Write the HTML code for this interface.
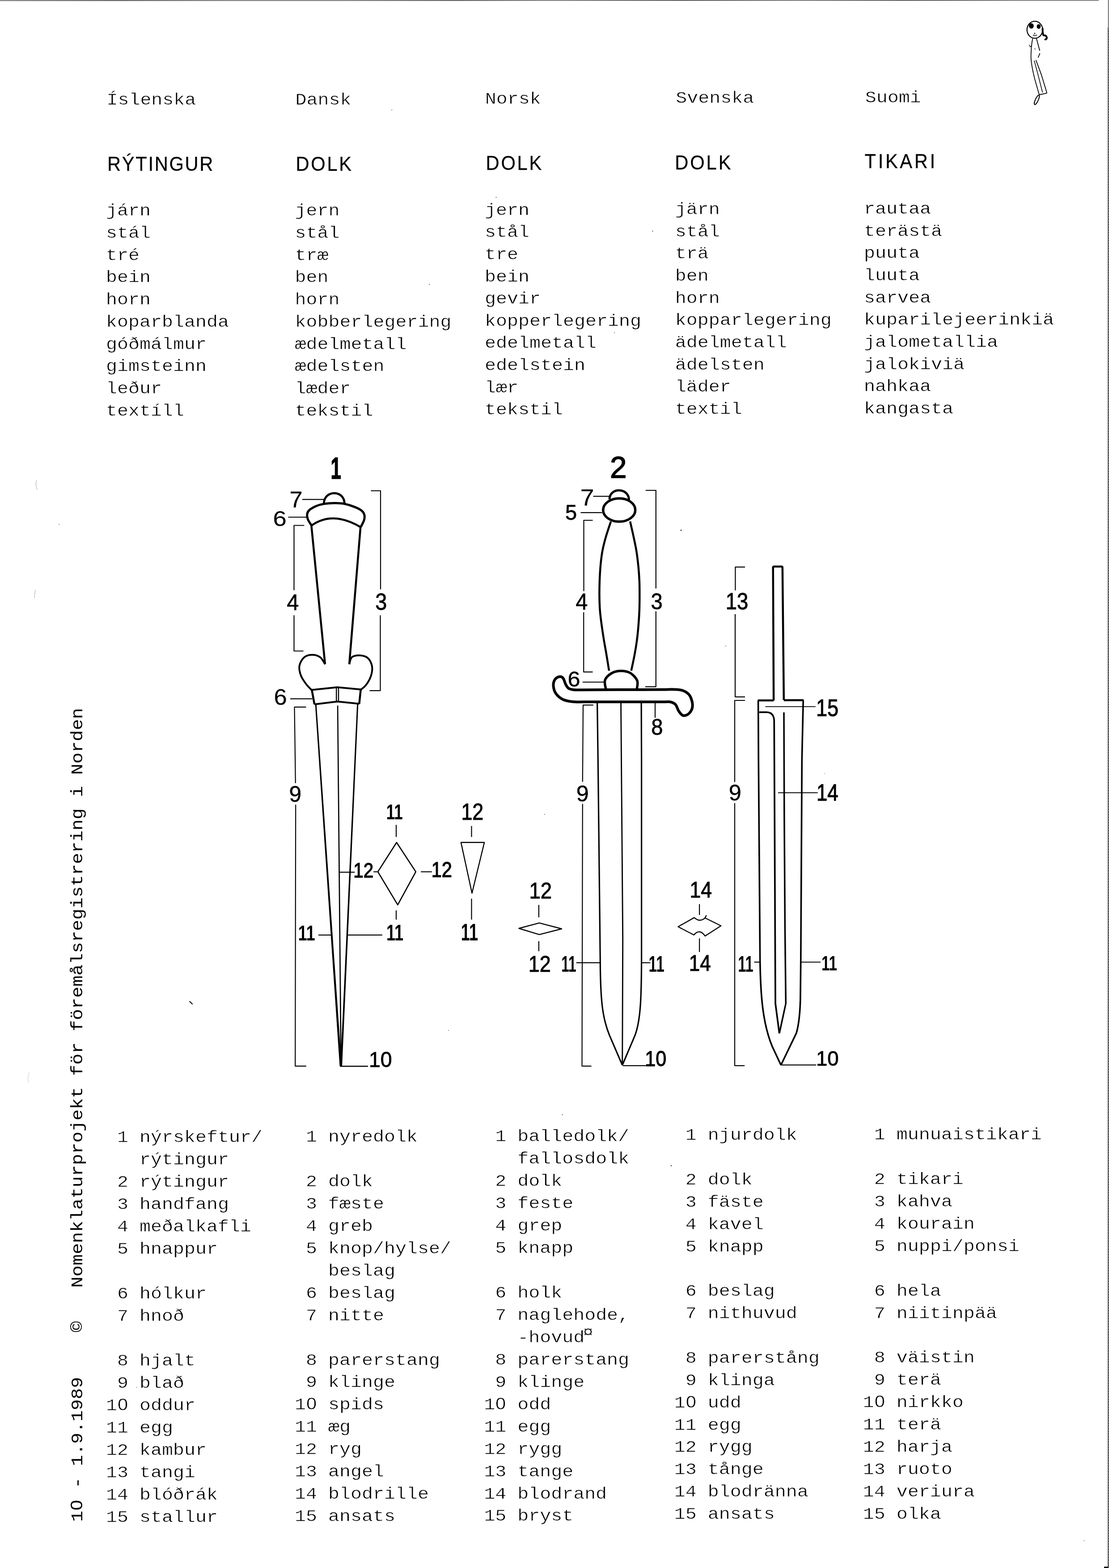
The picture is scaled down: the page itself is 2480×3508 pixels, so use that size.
<!DOCTYPE html>
<html lang="sv">
<head>
<meta charset="utf-8">
<title>Dolk – Nomenklaturprojekt för föremålsregistrering i Norden</title>
<style>
html,body{margin:0;padding:0;background:#fff;}
body{width:2480px;height:3508px;overflow:hidden;position:relative;}
svg{position:absolute;left:0;top:0;display:block;will-change:transform;}
text{fill:#000;white-space:pre;}
.m{font-family:"Liberation Mono",monospace;font-size:41.667px;letter-spacing:-0.004px;stroke:#fff;stroke-width:0.7px;}
.v{font-family:"Liberation Mono",monospace;font-size:41.667px;}
.z{font-family:"Liberation Sans",sans-serif;}
.h{font-family:"Liberation Sans",sans-serif;}
.s{font-family:"Liberation Sans",sans-serif;font-size:100px;stroke:#000;stroke-linejoin:miter;}
.sb{font-family:"Liberation Sans",sans-serif;font-size:100px;font-weight:bold;}
path,ellipse,circle{fill:none;stroke:#000;stroke-linecap:butt;stroke-linejoin:round;}
.f{fill:#000;stroke:none;}
</style>
</head>
<body>
<svg xml:space="preserve" width="2480" height="3508" viewBox="0 0 2480 3508">
<g id="edges">
<path d="M0 1.5L1200 1L2457 0.5" stroke-width="1.1"/>
<path class="f" d="M2478 0H2479V3508H2478Z"/>
<path d="M2477.5 62V3505" stroke-width="1" stroke-dasharray="1 1"/>
<path d="M2479.5 70V3505" stroke-width="1" stroke-dasharray="1 5"/>
<path class="f" d="M2469 3505H2478V3508H2469Z"/>
</g>
<g id="specks">
<path d="M81.5 1075Q79 1087 83.5 1096" stroke-width="1" stroke-dasharray="1.2 1.8"/>
<path d="M79.3 1320.6Q77.2 1326 77.5 1338" stroke-width="1" stroke-dasharray="1.2 1.8"/>
<path d="M65.3 2400Q60.5 2411 64 2422" stroke-width="0.8" stroke-dasharray="1 2.5"/>
<path d="M423.6 2240L430.7 2246.8" stroke-width="2"/>
<circle class="f" cx="876.2" cy="246" r="0.8"/>
<circle class="f" cx="960.3" cy="636.3" r="0.9"/>
<circle class="f" cx="1109.5" cy="441.3" r="0.9"/>
<circle class="f" cx="1459.3" cy="517" r="0.9"/>
<circle class="f" cx="1374" cy="744.6" r="0.8"/>
<circle class="f" cx="1523" cy="1186.3" r="1.2"/>
<circle class="f" cx="1623" cy="1445.2" r="0.8"/>
<circle class="f" cx="1218" cy="1822" r="0.8"/>
<circle class="f" cx="1002.8" cy="2305.3" r="0.8"/>
<circle class="f" cx="1844" cy="1730.6" r="0.7"/>
<circle class="f" cx="1257.5" cy="2493.8" r="0.9"/>
<circle class="f" cx="1501" cy="2608.2" r="1.1"/>
<circle class="f" cx="2424.5" cy="3446.8" r="0.8"/>
<circle class="f" cx="305.8" cy="3103.7" r="0.7"/>
<circle class="f" cx="132.4" cy="1173.3" r="0.8"/>
</g>
<g id="col1-head">
<text class="m" transform="matrix(1.0 0 0 0.88 238.4 233.9)">Íslenska</text>
<text class="h" stroke="#000" stroke-width="0.3" transform="matrix(0.93 0 0 1 240.0 381.6)" font-size="44.8" letter-spacing="2.90">RÝTINGUR</text>
<text class="m" transform="matrix(1.0 0 0 0.88 237.1 482.1)">járn</text>
<text class="m" transform="matrix(1.0 0 0 0.88 237.1 531.8)">stál</text>
<text class="m" transform="matrix(1.0 0 0 0.88 237.1 581.6)">tré</text>
<text class="m" transform="matrix(1.0 0 0 0.88 237.1 631.3)">bein</text>
<text class="m" transform="matrix(1.0 0 0 0.88 237.1 681.0)">horn</text>
<text class="m" transform="matrix(1.0 0 0 0.88 237.1 730.8)">koparblanda</text>
<text class="m" transform="matrix(1.0 0 0 0.88 237.1 780.5)">góðmálmur</text>
<text class="m" transform="matrix(1.0 0 0 0.88 237.1 830.2)">gimsteinn</text>
<text class="m" transform="matrix(1.0 0 0 0.88 237.1 879.9)">leður</text>
<text class="m" transform="matrix(1.0 0 0 0.88 237.1 929.7)">textíll</text>
</g>
<g id="col2-head">
<text class="m" transform="matrix(1.0 0 0 0.88 660.6 233.8)">Dansk</text>
<text class="h" stroke="#000" stroke-width="0.3" transform="matrix(0.93 0 0 1 661.5 381.6)" font-size="44.8" letter-spacing="3.99">DOLK</text>
<text class="m" transform="matrix(1.0 0 0 0.88 659.6 482.1)">jern</text>
<text class="m" transform="matrix(1.0 0 0 0.88 659.6 531.8)">stål</text>
<text class="m" transform="matrix(1.0 0 0 0.88 659.6 581.6)">træ</text>
<text class="m" transform="matrix(1.0 0 0 0.88 659.6 631.3)">ben</text>
<text class="m" transform="matrix(1.0 0 0 0.88 659.6 681.0)">horn</text>
<text class="m" transform="matrix(1.0 0 0 0.88 659.6 730.8)">kobberlegering</text>
<text class="m" transform="matrix(1.0 0 0 0.88 659.6 780.5)">ædelmetall</text>
<text class="m" transform="matrix(1.0 0 0 0.88 659.6 830.2)">ædelsten</text>
<text class="m" transform="matrix(1.0 0 0 0.88 659.6 879.9)">læder</text>
<text class="m" transform="matrix(1.0 0 0 0.88 659.6 929.7)">tekstil</text>
</g>
<g id="col3-head">
<text class="m" transform="matrix(1.0 0 0 0.88 1084.8 231.7)">Norsk</text>
<text class="h" stroke="#000" stroke-width="0.3" transform="matrix(0.93 0 0 1 1086.6 379.8)" font-size="44.8" letter-spacing="4.02">DOLK</text>
<text class="m" transform="matrix(1.0 0 0 0.88 1084.0 480.6)">jern</text>
<text class="m" transform="matrix(1.0 0 0 0.88 1084.0 530.2)">stål</text>
<text class="m" transform="matrix(1.0 0 0 0.88 1084.0 579.9)">tre</text>
<text class="m" transform="matrix(1.0 0 0 0.88 1084.0 629.5)">bein</text>
<text class="m" transform="matrix(1.0 0 0 0.88 1084.0 679.1)">gevir</text>
<text class="m" transform="matrix(1.0 0 0 0.88 1084.0 728.8)">kopperlegering</text>
<text class="m" transform="matrix(1.0 0 0 0.88 1084.0 778.4)">edelmetall</text>
<text class="m" transform="matrix(1.0 0 0 0.88 1084.0 828.0)">edelstein</text>
<text class="m" transform="matrix(1.0 0 0 0.88 1084.0 877.6)">lær</text>
<text class="m" transform="matrix(1.0 0 0 0.88 1084.0 927.3)">tekstil</text>
</g>
<g id="col4-head">
<text class="m" transform="matrix(1.0 0 0 0.88 1511.3 230.0)">Svenska</text>
<text class="h" stroke="#000" stroke-width="0.3" transform="matrix(0.93 0 0 1 1509.3 378.5)" font-size="44.8" letter-spacing="4.20">DOLK</text>
<text class="m" transform="matrix(1.0 0 0 0.88 1509.8 479.1)">järn</text>
<text class="m" transform="matrix(1.0 0 0 0.88 1509.8 528.7)">stål</text>
<text class="m" transform="matrix(1.0 0 0 0.88 1509.8 578.4)">trä</text>
<text class="m" transform="matrix(1.0 0 0 0.88 1509.8 628.0)">ben</text>
<text class="m" transform="matrix(1.0 0 0 0.88 1509.8 677.6)">horn</text>
<text class="m" transform="matrix(1.0 0 0 0.88 1509.8 727.2)">kopparlegering</text>
<text class="m" transform="matrix(1.0 0 0 0.88 1509.8 776.9)">ädelmetall</text>
<text class="m" transform="matrix(1.0 0 0 0.88 1509.8 826.5)">ädelsten</text>
<text class="m" transform="matrix(1.0 0 0 0.88 1509.8 876.1)">läder</text>
<text class="m" transform="matrix(1.0 0 0 0.88 1509.8 925.8)">textil</text>
</g>
<g id="col5-head">
<text class="m" transform="matrix(1.0 0 0 0.88 1934.8 229.4)">Suomi</text>
<text class="h" stroke="#000" stroke-width="0.3" transform="matrix(0.93 0 0 1 1933.6 376.4)" font-size="44.8" letter-spacing="4.99">TIKARI</text>
<text class="m" transform="matrix(1.0 0 0 0.88 1932.1 478.1)">rautaa</text>
<text class="m" transform="matrix(1.0 0 0 0.88 1932.1 527.7)">terästä</text>
<text class="m" transform="matrix(1.0 0 0 0.88 1932.1 577.4)">puuta</text>
<text class="m" transform="matrix(1.0 0 0 0.88 1932.1 627.0)">luuta</text>
<text class="m" transform="matrix(1.0 0 0 0.88 1932.1 676.6)">sarvea</text>
<text class="m" transform="matrix(1.0 0 0 0.88 1932.1 726.2)">kuparilejeerinkiä</text>
<text class="m" transform="matrix(1.0 0 0 0.88 1932.1 775.9)">jalometallia</text>
<text class="m" transform="matrix(1.0 0 0 0.88 1932.1 825.5)">jalokiviä</text>
<text class="m" transform="matrix(1.0 0 0 0.88 1932.1 875.1)">nahkaa</text>
<text class="m" transform="matrix(1.0 0 0 0.88 1932.1 924.8)">kangasta</text>
</g>
<g id="col1-list">
<text class="m" transform="matrix(1.0 0 0 0.88 262.0 2555.4)">1 nýrskeftur/</text>
<text class="m" transform="matrix(1.0 0 0 0.88 312.0 2605.3)">rýtingur</text>
<text class="m" transform="matrix(1.0 0 0 0.88 262.0 2655.3)">2 rýtingur</text>
<text class="m" transform="matrix(1.0 0 0 0.88 262.0 2705.2)">3 handfang</text>
<text class="m" transform="matrix(1.0 0 0 0.88 262.0 2755.2)">4 meðalkafli</text>
<text class="m" transform="matrix(1.0 0 0 0.88 262.0 2805.2)">5 hnappur</text>
<text class="m" transform="matrix(1.0 0 0 0.88 262.0 2905.1)">6 hólkur</text>
<text class="m" transform="matrix(1.0 0 0 0.88 262.0 2955.0)">7 hnoð</text>
<text class="m" transform="matrix(1.0 0 0 0.88 262.0 3054.9)">8 hjalt</text>
<text class="m" transform="matrix(1.0 0 0 0.88 262.0 3104.9)">9 blað</text>
<text class="m" transform="matrix(1.0 0 0 0.88 237.0 3154.8)">1<tspan class="z" dx="0.9" letter-spacing="0.927">0</tspan> oddur</text>
<text class="m" transform="matrix(1.0 0 0 0.88 237.0 3204.8)">11 egg</text>
<text class="m" transform="matrix(1.0 0 0 0.88 237.0 3254.7)">12 kambur</text>
<text class="m" transform="matrix(1.0 0 0 0.88 237.0 3304.7)">13 tangi</text>
<text class="m" transform="matrix(1.0 0 0 0.88 237.0 3354.6)">14 blóðrák</text>
<text class="m" transform="matrix(1.0 0 0 0.88 237.0 3404.6)">15 stallur</text>
</g>
<g id="col2-list">
<text class="m" transform="matrix(1.0 0 0 0.88 684.0 2554.4)">1 nyredolk</text>
<text class="m" transform="matrix(1.0 0 0 0.88 684.0 2654.2)">2 dolk</text>
<text class="m" transform="matrix(1.0 0 0 0.88 684.0 2704.1)">3 fæste</text>
<text class="m" transform="matrix(1.0 0 0 0.88 684.0 2754.0)">4 greb</text>
<text class="m" transform="matrix(1.0 0 0 0.88 684.0 2803.9)">5 knop/hylse/</text>
<text class="m" transform="matrix(1.0 0 0 0.88 734.0 2853.8)">beslag</text>
<text class="m" transform="matrix(1.0 0 0 0.88 684.0 2903.7)">6 beslag</text>
<text class="m" transform="matrix(1.0 0 0 0.88 684.0 2953.6)">7 nitte</text>
<text class="m" transform="matrix(1.0 0 0 0.88 684.0 3053.5)">8 parerstang</text>
<text class="m" transform="matrix(1.0 0 0 0.88 684.0 3103.4)">9 klinge</text>
<text class="m" transform="matrix(1.0 0 0 0.88 659.0 3153.3)">1<tspan class="z" dx="0.9" letter-spacing="0.927">0</tspan> spids</text>
<text class="m" transform="matrix(1.0 0 0 0.88 659.0 3203.2)">11 æg</text>
<text class="m" transform="matrix(1.0 0 0 0.88 659.0 3253.1)">12 ryg</text>
<text class="m" transform="matrix(1.0 0 0 0.88 659.0 3303.0)">13 angel</text>
<text class="m" transform="matrix(1.0 0 0 0.88 659.0 3352.9)">14 blodrille</text>
<text class="m" transform="matrix(1.0 0 0 0.88 659.0 3402.8)">15 ansats</text>
</g>
<g id="col3-list">
<text class="m" transform="matrix(1.0 0 0 0.88 1107.2 2553.1)">1 balledolk/</text>
<text class="m" transform="matrix(1.0 0 0 0.88 1157.2 2603.1)">fallosdolk</text>
<text class="m" transform="matrix(1.0 0 0 0.88 1107.2 2653.0)">2 dolk</text>
<text class="m" transform="matrix(1.0 0 0 0.88 1107.2 2703.0)">3 feste</text>
<text class="m" transform="matrix(1.0 0 0 0.88 1107.2 2752.9)">4 grep</text>
<text class="m" transform="matrix(1.0 0 0 0.88 1107.2 2802.9)">5 knapp</text>
<text class="m" transform="matrix(1.0 0 0 0.88 1107.2 2902.8)">6 holk</text>
<text class="m" transform="matrix(1.0 0 0 0.88 1107.2 2952.8)">7 naglehode,</text>
<text class="m" transform="matrix(1.0 0 0 0.88 1157.2 3002.7)">-hovud</text>
<text class="m" transform="matrix(0.95 0 0 0.85 1303.2 2990.7)">¤</text>
<text class="m" transform="matrix(1.0 0 0 0.88 1107.2 3052.7)">8 parerstang</text>
<text class="m" transform="matrix(1.0 0 0 0.88 1107.2 3102.7)">9 klinge</text>
<text class="m" transform="matrix(1.0 0 0 0.88 1082.2 3152.6)">1<tspan class="z" dx="0.9" letter-spacing="0.927">0</tspan> odd</text>
<text class="m" transform="matrix(1.0 0 0 0.88 1082.2 3202.6)">11 egg</text>
<text class="m" transform="matrix(1.0 0 0 0.88 1082.2 3252.5)">12 rygg</text>
<text class="m" transform="matrix(1.0 0 0 0.88 1082.2 3302.5)">13 tange</text>
<text class="m" transform="matrix(1.0 0 0 0.88 1082.2 3352.5)">14 blodrand</text>
<text class="m" transform="matrix(1.0 0 0 0.88 1082.2 3402.4)">15 bryst</text>
</g>
<g id="col4-list">
<text class="m" transform="matrix(1.0 0 0 0.88 1532.8 2550.4)">1 njurdolk</text>
<text class="m" transform="matrix(1.0 0 0 0.88 1532.8 2650.1)">2 dolk</text>
<text class="m" transform="matrix(1.0 0 0 0.88 1532.8 2700.0)">3 fäste</text>
<text class="m" transform="matrix(1.0 0 0 0.88 1532.8 2749.8)">4 kavel</text>
<text class="m" transform="matrix(1.0 0 0 0.88 1532.8 2799.7)">5 knapp</text>
<text class="m" transform="matrix(1.0 0 0 0.88 1532.8 2899.4)">6 beslag</text>
<text class="m" transform="matrix(1.0 0 0 0.88 1532.8 2949.3)">7 nithuvud</text>
<text class="m" transform="matrix(1.0 0 0 0.88 1532.8 3049.0)">8 parerstång</text>
<text class="m" transform="matrix(1.0 0 0 0.88 1532.8 3098.9)">9 klinga</text>
<text class="m" transform="matrix(1.0 0 0 0.88 1507.8 3148.7)">1<tspan class="z" dx="0.9" letter-spacing="0.927">0</tspan> udd</text>
<text class="m" transform="matrix(1.0 0 0 0.88 1507.8 3198.6)">11 egg</text>
<text class="m" transform="matrix(1.0 0 0 0.88 1507.8 3248.4)">12 rygg</text>
<text class="m" transform="matrix(1.0 0 0 0.88 1507.8 3298.3)">13 tånge</text>
<text class="m" transform="matrix(1.0 0 0 0.88 1507.8 3348.2)">14 blodränna</text>
<text class="m" transform="matrix(1.0 0 0 0.88 1507.8 3398.0)">15 ansats</text>
</g>
<g id="col5-list">
<text class="m" transform="matrix(1.0 0 0 0.88 1954.8 2549.3)">1 munuaistikari</text>
<text class="m" transform="matrix(1.0 0 0 0.88 1954.8 2649.1)">2 tikari</text>
<text class="m" transform="matrix(1.0 0 0 0.88 1954.8 2699.0)">3 kahva</text>
<text class="m" transform="matrix(1.0 0 0 0.88 1954.8 2748.9)">4 kourain</text>
<text class="m" transform="matrix(1.0 0 0 0.88 1954.8 2798.9)">5 nuppi/ponsi</text>
<text class="m" transform="matrix(1.0 0 0 0.88 1954.8 2898.7)">6 hela</text>
<text class="m" transform="matrix(1.0 0 0 0.88 1954.8 2948.6)">7 niitinpää</text>
<text class="m" transform="matrix(1.0 0 0 0.88 1954.8 3048.4)">8 väistin</text>
<text class="m" transform="matrix(1.0 0 0 0.88 1954.8 3098.3)">9 terä</text>
<text class="m" transform="matrix(1.0 0 0 0.88 1929.8 3148.2)">1<tspan class="z" dx="0.9" letter-spacing="0.927">0</tspan> nirkko</text>
<text class="m" transform="matrix(1.0 0 0 0.88 1929.8 3198.1)">11 terä</text>
<text class="m" transform="matrix(1.0 0 0 0.88 1929.8 3248.0)">12 harja</text>
<text class="m" transform="matrix(1.0 0 0 0.88 1929.8 3298.0)">13 ruoto</text>
<text class="m" transform="matrix(1.0 0 0 0.88 1929.8 3347.9)">14 veriura</text>
<text class="m" transform="matrix(1.0 0 0 0.88 1929.8 3397.8)">15 olka</text>
</g>
<text class="v" transform="translate(183.8 3404.8) rotate(-90) scale(1 0.88)" letter-spacing="-0.05">1<tspan class="z" dx="0.9" letter-spacing="0.881">0</tspan> - 1.9.1989    ©   Nomenklaturprojekt för föremålsregistrering i Norden</text>
<g id="dagger1">
<text class="sb" stroke="#000" stroke-width="2.5" transform="matrix(0.42 0 0 0.677 739.6 1070.6)">1</text>
<path d="M724.3 1127C724.3 1095.5 770.4 1095.5 770.4 1127" stroke-width="4.8"/>
<path d="M696.3 1176Q743.7 1142 806.7 1179.4" stroke-width="4.5"/>
<path d="M696.7 1175.5C695.3 1173.2 690.1 1166.3 688.5 1162.0C686.9 1157.7 686.4 1153.0 687.0 1149.5C687.6 1146.0 688.8 1143.8 692.0 1141.0C695.2 1138.2 700.9 1134.8 706.2 1132.5C711.5 1130.2 716.8 1128.6 723.9 1127.4C731.0 1126.2 740.8 1125.4 748.6 1125.4C756.4 1125.4 763.5 1126.0 770.9 1127.4C778.3 1128.9 786.6 1131.6 792.9 1134.1C799.2 1136.6 805.1 1139.4 808.7 1142.4C812.4 1145.4 813.9 1148.4 814.8 1152.0C815.7 1155.6 815.4 1159.5 814.0 1164.0C812.6 1168.5 807.9 1176.7 806.7 1179.2" stroke-width="5"/>
<path d="M696.3 1175.5L726.9 1486.0" stroke-width="4.5"/>
<path d="M806.2 1179.0L781.1 1486.0" stroke-width="4.5"/>
<path d="M726.9 1486.0C725.1 1483.4 720.8 1473.8 716.0 1470.3C711.2 1466.8 704.2 1465.0 698.3 1465.0C692.4 1465.0 685.4 1466.3 680.6 1470.3C675.8 1474.3 671.0 1482.3 669.7 1489.0C668.4 1495.7 670.2 1503.8 672.7 1510.7C675.2 1517.6 680.4 1524.8 684.5 1530.4C688.6 1536.0 695.2 1541.9 697.3 1544.2" stroke-width="4"/>
<path d="M781.1 1486.0C782.1 1483.4 783.0 1473.6 787.0 1470.3C791.0 1467.0 798.9 1466.0 804.8 1466.3C810.7 1466.6 818.0 1468.1 822.5 1472.2C827.0 1476.3 830.9 1484.3 832.0 1491.0C833.1 1497.7 831.6 1505.7 829.4 1512.6C827.2 1519.5 822.4 1527.3 818.6 1532.4C814.8 1537.5 808.7 1541.4 806.7 1543.2" stroke-width="4"/>
<path d="M697.3 1543.5L754.5 1537.5L806.7 1542.5" stroke-width="4"/>
<path d="M697.3 1543.5L703.2 1575.5" stroke-width="4.5"/>
<path d="M806.7 1542.5L803.3 1575" stroke-width="4.5"/>
<path d="M703.2 1575.7L754.5 1569.5L803.3 1574.5" stroke-width="4"/>
<path d="M752.2 1537.7V1570M757 1537.7V1570" stroke-width="2.4"/>
<path class="f" d="M704.7 1576H707.7L764.3 2385.5H759.6Z"/>
<path class="f" d="M798.3 1575H801.3L765 2385.5H761.2Z"/>
<path class="f" d="M753.8 1578.4H756.4L764 2385.5H761.3Z"/>
<text class="s" stroke-width="0.6" transform="matrix(0.5235 0 0.000 0.4956 647.42 1135.30)">7</text>
<text class="s" stroke-width="0.4" transform="matrix(0.5440 0 0.000 0.4802 610.44 1177.23)">6</text>
<text class="s" stroke-width="1.4" transform="matrix(0.4822 0 0.000 0.4956 641.59 1365.10)">4</text>
<text class="s" stroke-width="1.7" transform="matrix(0.4682 0 0.000 0.5099 839.22 1363.60)">3</text>
<text class="s" stroke-width="0.5" transform="matrix(0.5245 0 0.000 0.4958 612.54 1576.52)">6</text>
<text class="s" stroke-width="1.1" transform="matrix(0.4958 0 0.000 0.5085 646.38 1794.10)">9</text>
<text class="sb" transform="matrix(0.3495 0 0.000 0.4768 863.80 1832.80)">11</text>
<text class="sb" transform="matrix(0.3612 0 0.000 0.5044 863.92 2104.40)">11</text>
<text class="s" stroke-width="3.0" transform="matrix(0.4037 0 0.000 0.4698 790.32 1963.40)">12</text>
<text class="s" stroke-width="3.0" transform="matrix(0.4149 0 0.000 0.4812 964.74 1961.70)">12</text>
<text class="s" stroke-width="2.2" transform="matrix(0.4483 0 0.000 0.5099 1031.38 1834.20)">12</text>
<text class="sb" transform="matrix(0.3603 0 0.000 0.5378 1030.83 2103.90)">11</text>
<text class="sb" transform="matrix(0.3583 0 0.000 0.4884 666.74 2104.40)">11</text>
<text class="s" stroke-width="1.7" transform="matrix(0.4654 0 0.000 0.4816 824.96 2387.43)">10</text>
<path d="M676.0 1117.3L726.0 1117.3" stroke-width="2.2"/>
<path d="M644.5 1157.0L686.5 1157.0" stroke-width="2.2"/>
<path d="M680.5 1175.5H657.5V1320.4M657.5 1376.6V1456.5H678.6" stroke-width="2.2"/>
<path d="M829.4 1098H851V1318.4M850.5 1376.6V1545.2H826.5" stroke-width="2.2"/>
<path d="M649.0 1563.3L698.3 1563.3" stroke-width="2.2"/>
<path d="M684.5 1581.8H658.5L660.8 1752M661.2 1800.3L660.2 2385.2H684.8" stroke-width="2.2"/>
<path d="M886.0 1845.4L886.0 1872.5" stroke-width="2.2"/>
<path d="M886.0 2036.7L886.0 2057.4" stroke-width="2.2"/>
<path d="M758.8 1951.4L793.3 1951.4" stroke-width="2.2"/>
<path d="M835.2 1950.4L845.0 1950.4" stroke-width="2.2"/>
<path d="M941.2 1950.4L965.8 1950.4" stroke-width="2.2"/>
<path d="M1054.5 1847.9L1054.5 1872.5" stroke-width="2.2"/>
<path d="M1054.5 2010.5L1054.5 2057.4" stroke-width="2.2"/>
<path d="M712.0 2091.9L741.5 2091.9" stroke-width="2.2"/>
<path d="M776.0 2091.9L854.9 2091.9" stroke-width="2.2"/>
<path d="M760.5 2385.4L822.9 2385.4" stroke-width="2.5"/>
<path d="M886.9 1884.8L929.8 1950.4L889.4 2024.3L845.0 1950.4Z" stroke-width="2.6"/>
<path d="M1030.9 1884.8L1083.1 1884.8L1055.5 1998.2Z" stroke-width="2.4"/>
</g>
<g id="dagger2">
<text class="s" stroke-width="2.3" transform="matrix(0.6739 0 0.000 0.6946 1363.91 1068.60)">2</text>
<path d="M1363 1117C1363 1090 1406.5 1090 1406.5 1119" stroke-width="5"/>
<ellipse cx="1384.7" cy="1141" rx="36" ry="26" stroke-width="5.5"/>
<path d="M1366.1 1166.6C1364.3 1172.1 1358.5 1188.7 1355.3 1199.7C1352.1 1210.7 1349.2 1221.8 1347.1 1232.8C1345.0 1243.8 1343.9 1254.9 1342.9 1265.9C1341.9 1276.9 1341.3 1288.0 1340.9 1299.0C1340.5 1310.0 1340.3 1321.1 1340.4 1332.1C1340.5 1343.1 1340.8 1354.2 1341.6 1365.2C1342.4 1376.2 1343.9 1387.2 1345.4 1398.3C1346.9 1409.3 1348.6 1420.5 1350.4 1431.5C1352.2 1442.5 1354.3 1453.1 1356.2 1464.6C1358.1 1476.1 1361.0 1494.5 1362.0 1500.5" stroke-width="4.5"/>
<path d="M1409.1 1166.6C1410.3 1172.1 1414.2 1188.7 1416.6 1199.7C1418.9 1210.7 1421.4 1221.8 1423.2 1232.8C1425.0 1243.8 1426.3 1254.9 1427.4 1265.9C1428.5 1276.9 1429.3 1288.0 1429.8 1299.0C1430.3 1310.0 1430.3 1321.1 1430.3 1332.1C1430.3 1343.1 1430.2 1354.2 1429.8 1365.2C1429.4 1376.2 1428.7 1387.2 1427.8 1398.3C1426.9 1409.3 1425.9 1420.5 1424.4 1431.5C1423.0 1442.5 1421.2 1453.1 1419.1 1464.6C1417.0 1476.1 1412.8 1494.5 1411.6 1500.5" stroke-width="4.5"/>
<path d="M1355.0 1542.5C1354.7 1539.0 1350.8 1527.6 1353.0 1521.5C1355.2 1515.4 1362.1 1509.4 1368.0 1506.0C1373.9 1502.6 1381.5 1501.0 1388.5 1501.0C1395.5 1501.0 1403.9 1502.3 1410.0 1506.0C1416.1 1509.7 1422.7 1516.9 1425.0 1523.0C1427.3 1529.1 1424.2 1539.2 1424.0 1542.5" stroke-width="5.5"/>
<path d="M1400.0 1543.0C1375.0 1543.1 1347.5 1543.2 1330.0 1543.3C1312.5 1543.4 1303.1 1543.5 1295.0 1543.5C1286.9 1543.5 1285.2 1543.6 1281.3 1543.0C1277.4 1542.4 1274.2 1541.9 1271.5 1540.0C1268.8 1538.1 1267.4 1535.6 1265.3 1531.8C1263.2 1528.0 1261.6 1520.0 1259.1 1517.0C1256.6 1514.0 1253.6 1513.4 1250.5 1514.0C1247.4 1514.6 1242.9 1517.3 1240.7 1520.7C1238.5 1524.1 1237.1 1529.1 1237.5 1534.2C1237.9 1539.3 1239.5 1546.4 1243.1 1551.5C1246.7 1556.6 1252.7 1561.9 1259.1 1565.0C1265.5 1568.1 1272.8 1569.1 1281.3 1570.0C1289.8 1570.9 1290.2 1570.2 1310.0 1570.3C1329.8 1570.3 1371.7 1570.3 1400.0 1570.3C1428.3 1570.3 1463.6 1570.3 1480.0 1570.3C1496.4 1570.3 1493.1 1569.3 1498.2 1570.3C1503.3 1571.3 1507.2 1572.7 1510.5 1576.1C1513.8 1579.5 1515.0 1586.8 1517.9 1590.9C1520.8 1595.0 1523.9 1600.0 1527.8 1600.8C1531.7 1601.6 1537.8 1599.5 1541.3 1595.8C1544.8 1592.1 1548.5 1585.2 1548.7 1578.6C1548.9 1572.0 1546.1 1562.0 1542.6 1556.4C1539.1 1550.9 1533.5 1547.6 1527.8 1545.3C1522.0 1543.0 1516.1 1542.9 1508.1 1542.5C1500.1 1542.1 1498.0 1542.6 1480.0 1542.7C1462.0 1542.8 1425.0 1542.9 1400.0 1543.0Z" stroke-width="6"/>
<path d="M1335.6 1572L1337.3 1700L1342.2 2143.6C1342.6 2233 1346.3 2276 1362.9 2316.1L1391.7 2383" stroke-width="3.2"/>
<path d="M1434.1 1572L1434.6 1700L1434.6 2143.6C1434.4 2233 1432.5 2283 1420.1 2316.1L1391.7 2383" stroke-width="3.2"/>
<path d="M1388.5 1572L1392.7 2100L1391.7 2383" stroke-width="2.8"/>
<text class="s" stroke-width="0.4" transform="matrix(0.5543 0 0.000 0.5102 1297.76 1131.40)">7</text>
<text class="s" stroke-width="1.6" transform="matrix(0.4703 0 0.000 0.4887 1264.12 1163.42)">5</text>
<text class="s" stroke-width="1.4" transform="matrix(0.4822 0 0.000 0.5102 1287.59 1364.10)">4</text>
<text class="s" stroke-width="1.6" transform="matrix(0.4703 0 0.000 0.4958 1455.51 1362.62)">3</text>
<text class="s" stroke-width="0.9" transform="matrix(0.5028 0 0.000 0.4816 1269.45 1536.13)">6</text>
<text class="s" stroke-width="1.6" transform="matrix(0.4710 0 0.000 0.5014 1456.15 1643.91)">8</text>
<text class="s" stroke-width="1.0" transform="matrix(0.5023 0 0.000 0.5028 1288.85 1792.51)">9</text>
<text class="s" stroke-width="2.0" transform="matrix(0.4554 0 0.000 0.5013 1183.43 2009.50)">12</text>
<text class="s" stroke-width="2.1" transform="matrix(0.4494 0 0.000 0.4970 1181.78 2174.10)">12</text>
<text class="sb" transform="matrix(0.3162 0 0.000 0.5044 1255.21 2174.10)">11</text>
<text class="sb" transform="matrix(0.3319 0 0.000 0.4986 1450.51 2173.70)">11</text>
<text class="s" stroke-width="2.6" transform="matrix(0.4303 0 0.000 0.4816 1442.22 2384.93)">10</text>
<text class="s" stroke-width="2.2" transform="matrix(0.4460 0 0.000 0.4913 1542.40 2008.30)">14</text>
<text class="s" stroke-width="2.4" transform="matrix(0.4390 0 0.000 0.4927 1540.76 2172.30)">14</text>
<path d="M1326.5 1110.4L1362.0 1110.4" stroke-width="2.2"/>
<path d="M1298.5 1146.9L1346.2 1146.9" stroke-width="2.2"/>
<path d="M1325.5 1164H1305.5V1322.4M1305.2 1369.7V1503.4H1325.5" stroke-width="2.2"/>
<path d="M1443.8 1097H1466.8V1316.5M1466.8 1367.7V1536.3H1442.8" stroke-width="2.2"/>
<path d="M1302.8 1526.0L1352.1 1526.0" stroke-width="2.2"/>
<path d="M1326.9 1577.4H1304L1302.8 1749M1302.8 1798.6L1301.5 2385.2H1322.5" stroke-width="2.2"/>
<path d="M1465.0 1572.4L1465.0 1605.7" stroke-width="2.2"/>
<path d="M1160.4 2077.0L1205.9 2064.9L1256.0 2078.0L1205.9 2090.8Z" stroke-width="2.4"/>
<path d="M1204.9 2024.5L1204.9 2052.1" stroke-width="2.2"/>
<path d="M1204.9 2105.6L1204.9 2128.1" stroke-width="2.2"/>
<path d="M1288.7 2153.9L1341.2 2153.9" stroke-width="2.2"/>
<path d="M1435.4 2153.9L1454.4 2153.9" stroke-width="2.2"/>
<path d="M1392.5 2384.2L1444.8 2384.2" stroke-width="2.2"/>
<path d="M1564.1 2022.8L1564.1 2047.0" stroke-width="2.2"/>
<path d="M1564.1 2099.4L1564.1 2129.8" stroke-width="2.2"/>
<path d="M1516.4 2073.3L1552.5 2052.9Q1564.9 2064.3 1576.9 2053.7L1612.2 2071.3L1576.9 2094.1Q1564.5 2076.5 1551.7 2091.7ZM1575.5 2054.8Q1578.3 2051.5 1579.6 2047.5" stroke-width="2.4"/>
</g>
<g id="dagger3">
<path d="M1730.1 1567L1728.7 1270Q1728.7 1267.6 1731 1267.6H1747.5Q1749.8 1267.6 1749.8 1270L1752.8 1566" stroke-width="4.5"/>
<path d="M1694.6 1567H1730.1M1752.8 1566.5H1797.2" stroke-width="4.5"/>
<path d="M1695.6 1567L1696.2 1700L1699.6 2143.6C1700.5 2230 1706 2290 1726.7 2340.8L1746.4 2382.7" stroke-width="3.6"/>
<path d="M1796.2 1567L1793.3 1700L1790.8 2143.6L1789.8 2237.3Q1788.5 2285 1780.9 2311.2L1746.4 2382.7" stroke-width="3.6"/>
<path d="M1697.6 1593.3H1714Q1731.2 1593.5 1731.2 1614L1731.6 1700L1734 2245L1742.8 2312" stroke-width="3.7"/>
<path d="M1753 1593.7L1753.8 1820L1755.4 2075L1757.3 2245L1742.8 2312" stroke-width="3.5"/>
<text class="s" stroke-width="2.0" transform="matrix(0.4535 0 0.000 0.5226 1622.85 1362.99)">13</text>
<text class="s" stroke-width="2.1" transform="matrix(0.4516 0 0.000 0.5317 1824.96 1602.28)">15</text>
<text class="s" stroke-width="2.5" transform="matrix(0.4360 0 0.000 0.5247 1826.08 1791.10)">14</text>
<text class="s" stroke-width="0.9" transform="matrix(0.5044 0 0.000 0.4958 1629.84 1790.62)">9</text>
<text class="sb" transform="matrix(0.3260 0 0.000 0.5015 1650.15 2173.50)">11</text>
<text class="sb" transform="matrix(0.3328 0 0.000 0.4549 1836.90 2171.00)">11</text>
<text class="s" stroke-width="2.0" transform="matrix(0.4553 0 0.000 0.4689 1825.03 2384.04)">10</text>
<path d="M1666 1268.6H1644.4V1320.8M1644 1374.1V1559.1H1666" stroke-width="2.2"/>
<path d="M1666 1567H1643V1749.4M1643 1796.7L1643 2384.2H1665.1" stroke-width="2.2"/>
<path d="M1711.4 1580.8L1823.8 1580.8" stroke-width="1.8"/>
<path d="M1740.0 1773.5L1828.7 1773.5" stroke-width="2.2"/>
<path d="M1686.5 2152.5L1699.6 2152.5" stroke-width="2.2"/>
<path d="M1790.8 2152.5L1835.2 2152.5" stroke-width="2.2"/>
<path d="M1746.4 2382.7L1825.3 2382.7" stroke-width="2.2"/>
</g>
<g id="figure">
<ellipse cx="2314.1" cy="66.6" rx="17.5" ry="19" stroke-width="2.2"/>
<ellipse class="f" cx="2306.3" cy="58" rx="5.4" ry="5.9"/>
<ellipse class="f" cx="2322.8" cy="59.3" rx="4.4" ry="5.3"/>
<path d="M2310 78Q2314 82 2319 78M2314 73V77" stroke-width="1.6"/>
<path d="M2331.6 63Q2331 74 2333.5 79Q2340.5 78.5 2341 85Q2339.5 89.5 2336 87.5" stroke-width="4"/>
<path d="M2309.2 86.3Q2305.5 105 2305.5 128Q2306 145 2314.1 177.4L2324 212" stroke-width="1.8"/>
<path d="M2317.8 86.3L2325.2 113.4M2325.5 119L2321.5 129" stroke-width="1.8"/>
<path d="M2316.6 134.3L2328.9 167.6L2341.2 208.3" stroke-width="1.8"/>
<path d="M2312.9 135.6L2322 170L2331.4 207" stroke-width="1.6"/>
<path d="M2324 212L2341.2 208.3" stroke-width="1.8"/>
<ellipse cx="2318.6" cy="223.5" rx="3.2" ry="11.5" transform="rotate(25 2318.6 223.5)" stroke-width="2"/>
<path d="M2301.5 100L2303.5 105L2307 102M2313.5 108.5L2315.5 110.5" stroke-width="1.2"/>
</g>
</svg>
</body>
</html>
